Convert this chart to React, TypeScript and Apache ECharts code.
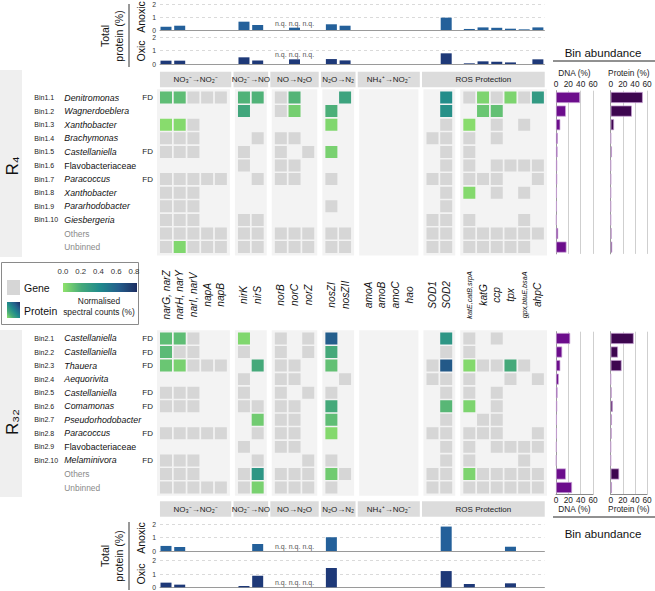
import React, { useEffect, useRef } from "react";
import * as echarts from "echarts";

const FONT = "'Liberation Sans', Arial, Helvetica, sans-serif";

// ---------- DATA ----------
const genes = [
  "narG, narZ", "narH, narY", "narI, narV", "napA", "napB",
  "nirK", "nirS",
  "norB", "norC", "norZ",
  "nosZI", "nosZII",
  "amoA", "amoB", "amoC", "hao",
  "SOD1", "SOD2",
  "katE,catB,srpA", "katG", "ccp", "tpx", "gpx,btuE,bsaA", "ahpC",
];
const geneSubpanel = [0, 0, 0, 0, 0, 1, 1, 2, 2, 2, 3, 3, 4, 4, 4, 4, 5, 5, 6, 6, 6, 6, 6, 6];
const headerLabels = ["NO₃⁻→NO₂⁻", "NO₂⁻→NO", "NO→N₂O", "N₂O→N₂", "NH₄⁺→NO₂⁻", "ROS Protection"];
const headerSubpanels = [[0], [1], [2], [3], [4], [5, 6]];
const nqGenes = ["norB", "norC", "norZ"];

const r4Ids = ["Bin1.1", "Bin1.2", "Bin1.3", "Bin1.4", "Bin1.5", "Bin1.6", "Bin1.7", "Bin1.8", "Bin1.9", "Bin1.10", "", ""];
const r4Taxa = ["Denitromonas", "Wagnerdoeblera", "Xanthobacter", "Brachymonas", "Castellaniella", "Flavobacteriaceae", "Paracoccus", "Xanthobacter", "Pararhodobacter", "Giesbergeria", "Others", "Unbinned"];
const r4FD = [true, false, false, false, true, false, true, false, false, false, false, false];
// 0 = absent, -1 = gene present, >0 = protein detected (normalised spectral counts %)
const r4Cells = [
  [0.13, 0.13, -1, -1, -1, 0.17, 0.17, -1, 0.16, 0, 0, 0.24, 0, 0, 0, 0, 0, 0.38, -1, 0.05, -1, 0.05, -1, 0.3],
  [0, 0, 0, 0, 0, 0.22, 0, -1, 0.07, 0, 0.18, 0, 0, 0, 0, 0, 0, 0.36, 0, 0.1, 0.12, 0, 0, 0],
  [0.02, 0.03, -1, 0, 0, 0, 0, 0, 0, 0, 0.04, 0, 0, 0, 0, 0, 0, -1, 0.02, 0, -1, 0, -1, 0],
  [-1, -1, -1, 0, 0, 0, -1, -1, -1, 0, 0, 0, 0, 0, 0, 0, -1, -1, -1, 0, -1, 0, 0, 0],
  [-1, -1, -1, 0, 0, -1, 0, -1, 0, -1, 0.06, 0, 0, 0, 0, 0, 0, -1, -1, 0, 0, 0, 0, 0],
  [0, 0, 0, 0, 0, -1, 0, -1, -1, 0, 0, 0, 0, 0, 0, 0, 0, -1, -1, 0, -1, -1, -1, -1],
  [-1, -1, -1, -1, -1, 0, -1, -1, -1, 0, -1, 0, 0, 0, 0, 0, -1, -1, -1, -1, -1, 0, 0, -1],
  [-1, -1, -1, 0, 0, 0, 0, 0, 0, 0, 0, 0, 0, 0, 0, 0, 0, -1, 0.03, 0, -1, 0, -1, 0],
  [-1, -1, -1, 0, 0, 0, 0, 0, 0, 0, -1, 0, 0, 0, 0, 0, 0, -1, 0, 0, 0, 0, 0, 0],
  [-1, -1, -1, 0, 0, -1, -1, 0, 0, 0, 0, 0, 0, 0, 0, 0, -1, -1, -1, 0, 0, 0, -1, 0],
  [-1, -1, -1, -1, -1, -1, -1, -1, -1, -1, -1, -1, 0, 0, 0, 0, -1, -1, -1, -1, -1, -1, -1, -1],
  [-1, 0.04, -1, -1, -1, -1, -1, -1, -1, -1, -1, -1, 0, 0, 0, 0, -1, -1, -1, -1, -1, -1, -1, 0],
];
const r4DNA = [39, 16, 7, 3, 2.5, 2, 2, 1.5, 1.5, 1, 3.5, 17];
const r4Protein = [53, 35, 5.5, 0.5, 2, 0.3, 0.5, 0.3, 0.2, 0.3, 1.5, 2.5];
const r4Anoxic = [0.25, 0.33, null, null, null, 0.64, 0.38, null, 0.18, null, 0.44, 0.33, null, null, null, null, null, 0.95, 0.08, 0.2, 0.17, 0.1, 0.05, 0.2];
const r4Oxic = [0.25, 0.25, null, null, null, 0.5, 0.27, null, 0.35, null, 0.37, 0.27, null, null, null, null, null, 0.8, 0.05, 0.2, 0.17, 0.12, null, 0.35];

const r32Ids = ["Bin2.1", "Bin2.2", "Bin2.3", "Bin2.4", "Bin2.5", "Bin2.6", "Bin2.7", "Bin2.8", "Bin2.9", "Bin2.10", "", ""];
const r32Taxa = ["Castellaniella", "Castellaniella", "Thauera", "Aequorivita", "Castellaniella", "Comamonas", "Pseudorhodobacter", "Paracoccus", "Flavobacteriaceae", "Melaminivora", "Others", "Unbinned"];
const r32FD = [true, true, true, false, true, true, false, true, false, true, false, false];
const r32Cells = [
  [0.13, 0.13, -1, 0, 0, 0.04, 0, -1, 0, -1, 0.6, 0, 0, 0, 0, 0, 0, 0.32, -1, 0, -1, 0, 0, 0],
  [0.14, -1, -1, 0, 0, -1, 0, -1, 0, -1, 0.2, 0, 0, 0, 0, 0, 0, -1, -1, 0, 0, 0, 0, 0],
  [0.1, 0.06, -1, -1, -1, 0, 0.2, -1, -1, 0, 0.12, 0, 0, 0, 0, 0, -1, 0.62, 0.03, -1, -1, 0.2, -1, 0],
  [0, 0, 0, 0, 0, -1, 0, -1, -1, 0, 0, -1, 0, 0, 0, 0, -1, -1, -1, 0, 0, -1, 0, -1],
  [-1, -1, -1, 0, 0, -1, 0, -1, 0, -1, -1, 0, 0, 0, 0, 0, 0, -1, -1, 0, -1, 0, 0, 0],
  [-1, -1, -1, 0, 0, -1, -1, -1, -1, 0, 0.2, 0, 0, 0, 0, 0, 0, 0.15, 0.05, 0, -1, 0, 0, 0],
  [0, 0, 0, 0, 0, 0, 0.08, -1, -1, 0, 0.13, 0, 0, 0, 0, 0, 0, -1, 0, -1, -1, 0, 0, 0],
  [-1, -1, -1, -1, -1, 0, -1, -1, -1, 0, 0.03, 0, 0, 0, 0, 0, -1, -1, -1, -1, -1, 0, 0, -1],
  [0, 0, 0, 0, 0, -1, 0, -1, -1, 0, 0, 0, 0, 0, 0, 0, 0, -1, -1, 0, -1, -1, -1, -1],
  [-1, -1, -1, 0, 0, 0, -1, 0, 0, -1, -1, 0, 0, 0, 0, 0, 0, -1, -1, 0, 0, 0, -1, 0],
  [-1, -1, -1, 0, 0, -1, 0.32, -1, -1, -1, 0.08, -1, 0, 0, 0, 0, -1, -1, 0.05, -1, -1, -1, -1, -1],
  [-1, -1, -1, -1, -1, -1, 0.06, -1, -1, -1, -1, 0, 0, 0, 0, 0, -1, -1, -1, -1, -1, -1, -1, -1],
];
const r32DNA = [23, 10, 7, 4.5, 2.5, 2, 1.5, 1.5, 1, 0.7, 16, 26];
const r32Protein = [38, 12, 18, 0.3, 1.5, 3.5, 2, 1.5, 0.2, 0.3, 14, 2];
const r32Anoxic = [0.38, 0.3, null, null, null, null, 0.52, null, null, null, 1.03, null, null, null, null, null, null, 1.83, null, null, null, 0.32, null, null];
const r32Oxic = [0.35, 0.2, null, null, null, 0.1, 0.86, null, null, null, 1.45, null, null, null, null, null, null, 1.22, 0.25, null, null, 0.3, null, null];

const colorStops = ["#8fe26b", "#45a97a", "#1f8a8c", "#245e8c", "#1c2d60"];
const colorTicks = [0, 0.2, 0.4, 0.6, 0.8];
const abundanceTicks = [0, 60, 20];

// ---------- STYLE / LAYOUT ----------
const P = 13.71; // px per column unit
const X0 = 166; // px of column 0
const G = 0.6875; // extra gap between sub-panels (column units)
const GENE = "#d6d6d6";
const PANEL = "#f3f3f3";
const HEAD = "#dcdcdc";
const ANOX = "#24609a";
const OXIC = "#1e3978";
const DNA_C = "#6c0d8c";
const PROT_C = "#3d064f";

const pos = (c: number) => c + geneSubpanel[c] * G;
const gridX = (xmin: number, xmax: number) => ({ left: X0 + xmin * P, width: (xmax - xmin) * P });
const nSub = Math.max(...geneSubpanel) + 1;
const subFirst = Array.from({ length: nSub }, (_, s) => pos(geneSubpanel.indexOf(s)));
const subLast = Array.from({ length: nSub }, (_, s) => pos(geneSubpanel.lastIndexOf(s)));

function hexToRgb(h: string) {
  const n = parseInt(h.slice(1), 16);
  return [(n >> 16) & 255, (n >> 8) & 255, n & 255];
}
function colorFor(v: number) {
  const t = Math.max(0, Math.min(1, v / 0.8)) * (colorStops.length - 1);
  const i = Math.min(colorStops.length - 2, Math.floor(t));
  const f = t - i;
  const a = hexToRgb(colorStops[i]);
  const b = hexToRgb(colorStops[i + 1]);
  return `rgb(${a.map((x, k) => Math.round(x + (b[k] - x) * f)).join(",")})`;
}

function buildOption() {
  const grid: any[] = [];
  const xAxis: any[] = [];
  const yAxis: any[] = [];
  const series: any[] = [];
  const addGrid = (g: any, xa: any, ya: any) => {
    const i = grid.length;
    grid.push(g);
    xAxis.push({ ...xa, gridIndex: i });
    yAxis.push({ ...ya, gridIndex: i });
    return i;
  };

  const proteinPanel = (top: number, height: number, values: (number | null)[], color: string) => {
    const xmin = -0.4375, xmax = 27.6;
    const gx = gridX(xmin, xmax);
    const i = addGrid(
      { left: gx.left, width: gx.width, top, height },
      { type: "value", min: xmin, max: xmax, axisLine: { show: true, lineStyle: { color: "#9a9a9a", width: 1 } }, axisTick: { show: false }, axisLabel: { show: false }, splitLine: { show: false } },
      { type: "value", min: 0, max: 2, interval: 1, axisLine: { show: false }, axisTick: { show: false }, axisLabel: { fontSize: 6.8, color: "#333", margin: 4, fontFamily: FONT }, splitLine: { lineStyle: { color: "#dadada", type: [3, 3] } } }
    );
    const data: any[] = [];
    values.forEach((v, c) => { if (v != null) data.push([pos(c), v]); });
    series.push({ type: "bar", xAxisIndex: i, yAxisIndex: i, barWidth: 11, data, itemStyle: { color }, z: 3 });
    const nqCols = nqGenes.map((g) => genes.indexOf(g));
    const hi = Math.max(0, ...nqCols.map((c) => values[c] ?? 0));
    series.push({
      type: "custom", xAxisIndex: i, yAxisIndex: i, z: 4,
      data: nqCols.map((c) => [pos(c), hi + 0.35]),
      renderItem: (_p: any, api: any) => {
        const pt = api.coord([api.value(0), api.value(1)]);
        return { type: "text", x: pt[0], y: pt[1], style: { text: "n.q.", fontSize: 7, fill: "#555", align: "center", verticalAlign: "middle", fontFamily: FONT } };
      },
    });
  };

  const heatPanel = (top: number, height: number, ids: string[], taxa: string[], fd: boolean[], cells: number[][], headerTop: boolean, geneLabels: boolean) => {
    const xmin = -1, xmax = 28.125;
    const gx = gridX(xmin, xmax);
    const i = addGrid(
      { left: gx.left, width: gx.width, top, height },
      { type: "value", min: xmin, max: xmax, show: false },
      {
        type: "category", inverse: true, data: ids.map((_, k) => String(k)),
        axisLine: { show: false }, axisTick: { show: false }, splitLine: { show: false },
        axisLabel: {
          interval: 0, margin: 0, fontFamily: FONT,
          formatter: (v: string) => {
            const k = Number(v);
            const other = ids[k] === "";
            const plain = other || /aceae$/.test(taxa[k]);
            const st = other ? "to" : plain ? "tn" : "tx";
            return `{id|${ids[k] || " "}}{${st}|${taxa[k]}}{fd|${fd[k] ? "FD" : " "}}`;
          },
          rich: {
            id: { width: 30, align: "left", fontSize: 7, color: "#222", fontFamily: FONT },
            tx: { width: 78, align: "left", fontSize: 8.8, color: "#111", fontStyle: "italic", fontFamily: FONT },
            tn: { width: 78, align: "left", fontSize: 8.8, color: "#111", fontFamily: FONT },
            to: { width: 78, align: "left", fontSize: 8.4, color: "#8a8a8a", fontFamily: FONT },
            fd: { width: 10, align: "left", fontSize: 8, color: "#222", fontFamily: FONT },
          },
        },
      }
    );
    // sub-panel backgrounds
    series.push({
      type: "custom", xAxisIndex: i, yAxisIndex: i, z: 1, encode: { x: 0, y: 1 },
      data: subFirst.map((f, s) => [f, 0, subLast[s]]),
      renderItem: (params: any, api: any) => {
        const a = api.coord([api.value(0), 0]);
        const b = api.coord([api.value(2), 0]);
        const cs = params.coordSys;
        const h = 0.66 * P;
        return { type: "rect", shape: { x: a[0] - h, y: cs.y - 1.5, width: b[0] - a[0] + 2 * h, height: cs.height + 3 }, style: { fill: PANEL } };
      },
    });
    // cells
    const cellData: any[] = [];
    cells.forEach((row, r) => row.forEach((v, c) => { if (v !== 0) cellData.push([pos(c), r, v]); }));
    series.push({
      type: "custom", xAxisIndex: i, yAxisIndex: i, z: 2, encode: { x: 0, y: 1 },
      data: cellData,
      renderItem: (_p: any, api: any) => {
        const v = api.value(2);
        const c = api.coord([api.value(0), api.value(1)]);
        const s = api.size([1, 1]);
        const w = s[0] * 0.875, h = s[1] * 0.88;
        return { type: "rect", shape: { x: c[0] - w / 2, y: c[1] - h / 2, width: w, height: h }, style: { fill: v < 0 ? GENE : colorFor(v) } };
      },
    });
    // headers
    const HALF = (1 + G) / 2;
    series.push({
      type: "custom", xAxisIndex: i, yAxisIndex: i, z: 2, encode: { x: 0, y: 1 },
      data: headerSubpanels.map((sp, k) => {
        const l = k === 0 ? subFirst[sp[0]] - 0.44 : subFirst[sp[0]] - HALF + 0.08;
        const r = k === headerSubpanels.length - 1 ? subLast[sp[sp.length - 1]] + 0.5 : subLast[sp[sp.length - 1]] + HALF - 0.08;
        return [l, 0, r, k];
      }),
      renderItem: (params: any, api: any) => {
        const a = api.coord([api.value(0), 0]);
        const b = api.coord([api.value(2), 0]);
        const cs = params.coordSys;
        const hh = 15.5;
        const y = headerTop ? cs.y - 19 : cs.y + cs.height + 7;
        return {
          type: "group",
          children: [
            { type: "rect", shape: { x: a[0], y, width: b[0] - a[0], height: hh }, style: { fill: HEAD } },
            { type: "text", x: (a[0] + b[0]) / 2, y: y + hh / 2 + 0.5, style: { text: headerLabels[api.value(3)], fontSize: 8, fill: "#222", align: "center", verticalAlign: "middle", fontFamily: FONT } },
          ],
        };
      },
    });
    if (geneLabels) {
      series.push({
        type: "custom", xAxisIndex: i, yAxisIndex: i, z: 2, encode: { x: 0, y: 1 },
        data: genes.map((_, c) => [pos(c), 0, c]),
        renderItem: (params: any, api: any) => {
          const a = api.coord([api.value(0), 0]);
          const cs = params.coordSys;
          const name = genes[api.value(2)];
          const small = name.indexOf(",") >= 0 && name.indexOf(", ") < 0;
          return { type: "text", x: a[0], y: cs.y + cs.height + 41, rotation: Math.PI / 2, style: { text: name, fontSize: small ? 7.2 : 10.2, fontStyle: "italic", fill: "#111", align: "center", verticalAlign: "middle", fontFamily: FONT } };
        },
      });
    }
    return i;
  };

  const abundPanel = (left: number, width: number, top: number, height: number, values: number[], color: string, axisTop: boolean, name: string) => {
    const i = addGrid(
      { left, width, top, height },
      {
        type: "value", min: abundanceTicks[0], max: abundanceTicks[1], interval: abundanceTicks[2], position: axisTop ? "top" : "bottom",
        axisLine: { show: !axisTop, lineStyle: { color: "#8a8a8a" } }, axisTick: { show: false },
        axisLabel: { fontSize: 8.3, color: "#222", margin: axisTop ? 3 : 1.5, fontFamily: FONT },
        splitLine: { show: true, lineStyle: { color: "#cfcfcf" } },
        name, nameLocation: "middle", nameGap: axisTop ? 14 : 10,
        nameTextStyle: { fontSize: 8.3, color: "#222", fontFamily: FONT },
      },
      { type: "category", inverse: true, data: values.map((_, k) => String(k)), axisLine: { show: true, lineStyle: { color: "#9a9a9a" } }, axisTick: { show: false }, axisLabel: { show: false } }
    );
    series.push({ type: "bar", xAxisIndex: i, yAxisIndex: i, barWidth: 11, data: values, itemStyle: { color, borderColor: "#c9a3d6", borderWidth: 0.7 }, z: 3 });
  };

  // R4
  proteinPanel(4, 26, r4Anoxic, ANOX);
  proteinPanel(37.3, 26.7, r4Oxic, OXIC);
  heatPanel(90.7, 163.2, r4Ids, r4Taxa, r4FD, r4Cells, true, true);
  abundPanel(556, 37, 90.7, 163.2, r4DNA, DNA_C, true, "DNA (%)");
  abundPanel(610.7, 36.3, 90.7, 163.2, r4Protein, PROT_C, true, "Protein (%)");
  // R32
  heatPanel(331.7, 162.6, r32Ids, r32Taxa, r32FD, r32Cells, false, false);
  abundPanel(556, 37, 331.7, 162.6, r32DNA, DNA_C, false, "DNA (%)");
  abundPanel(610.7, 36.3, 331.7, 162.6, r32Protein, PROT_C, false, "Protein (%)");
  proteinPanel(524.3, 26.7, r32Anoxic, ANOX);
  proteinPanel(560.7, 26.6, r32Oxic, OXIC);

  const txt = (x: number, y: number, text: string, fontSize: number, extra: any = {}, rot = 0) => ({
    type: "text", x, y, rotation: rot,
    style: { text, fontSize, fill: "#111", align: "center", verticalAlign: "middle", fontFamily: FONT, ...extra },
  });
  const gradH = new echarts.graphic.LinearGradient(0, 0, 1, 0, colorStops.map((c, k) => ({ offset: k / (colorStops.length - 1), color: c })));
  const gradD = new echarts.graphic.LinearGradient(0, 1, 1, 0, colorStops.map((c, k) => ({ offset: k / (colorStops.length - 1), color: c })));

  const graphic: any[] = [
    // section labels
    { type: "rect", shape: { x: 0, y: 70, width: 22, height: 187 }, style: { fill: "#efefef" } },
    txt(12, 166, "R₄", 17, {}, Math.PI / 2),
    { type: "rect", shape: { x: 0, y: 330, width: 22, height: 167 }, style: { fill: "#efefef" } },
    txt(12, 422, "R₃₂", 17, {}, Math.PI / 2),
    // total protein labels (top)
    txt(112, 36, "Total\nprotein (%)", 10.5, { lineHeight: 14 }, Math.PI / 2),
    { type: "line", shape: { x1: 129, y1: 4, x2: 129, y2: 67 }, style: { stroke: "#333", lineWidth: 1 } },
    txt(141, 17, "Anoxic", 10.5, {}, Math.PI / 2),
    txt(141, 51, "Oxic", 10.5, {}, Math.PI / 2),
    // total protein labels (bottom)
    txt(112, 556, "Total\nprotein (%)", 10.5, { lineHeight: 14 }, Math.PI / 2),
    { type: "line", shape: { x1: 129, y1: 522, x2: 129, y2: 590 }, style: { stroke: "#333", lineWidth: 1 } },
    txt(141, 538, "Anoxic", 10.5, {}, Math.PI / 2),
    txt(141, 574, "Oxic", 10.5, {}, Math.PI / 2),
    // bin abundance titles
    txt(603, 53, "Bin abundance", 11.5),
    { type: "line", shape: { x1: 553, y1: 61, x2: 655, y2: 61 }, style: { stroke: "#222", lineWidth: 1 } },
    { type: "line", shape: { x1: 553, y1: 517, x2: 655, y2: 517 }, style: { stroke: "#222", lineWidth: 1 } },
    txt(603, 534, "Bin abundance", 11.5),
    // legend
    { type: "rect", shape: { x: 1.5, y: 262.5, width: 137, height: 62 }, style: { fill: "#fff", stroke: "#8a8a8a", lineWidth: 1 } },
    { type: "rect", shape: { x: 7, y: 280, width: 13, height: 15 }, style: { fill: GENE } },
    txt(24, 288, "Gene", 10.5, { align: "left" }),
    { type: "rect", shape: { x: 7, y: 302, width: 13, height: 16 }, style: { fill: gradD } },
    txt(24, 310.5, "Protein", 10.5, { align: "left" }),
    { type: "rect", shape: { x: 63, y: 283, width: 74, height: 9 }, style: { fill: gradH } },
    ...colorTicks.map((v) => txt(63 + (v / 0.8) * 71, 271.5, v.toFixed(1), 7.8, { fill: "#333" })),
    txt(99, 300.5, "Normalised", 8.4, { fill: "#222" }),
    txt(99, 312, "spectral counts (%)", 8.4, { fill: "#222" }),
  ];

  return { animation: false, textStyle: { fontFamily: FONT }, grid, xAxis, yAxis, series, graphic };
}

export default function App() {
  const ref = useRef<HTMLDivElement>(null);
  useEffect(() => {
    document.body.style.margin = "0";
    const chart = echarts.init(ref.current as HTMLDivElement, null, { renderer: "svg" });
    chart.setOption(buildOption() as any);
    return () => chart.dispose();
  }, []);
  return <div ref={ref} style={{ width: 655, height: 591 }} />;
}
